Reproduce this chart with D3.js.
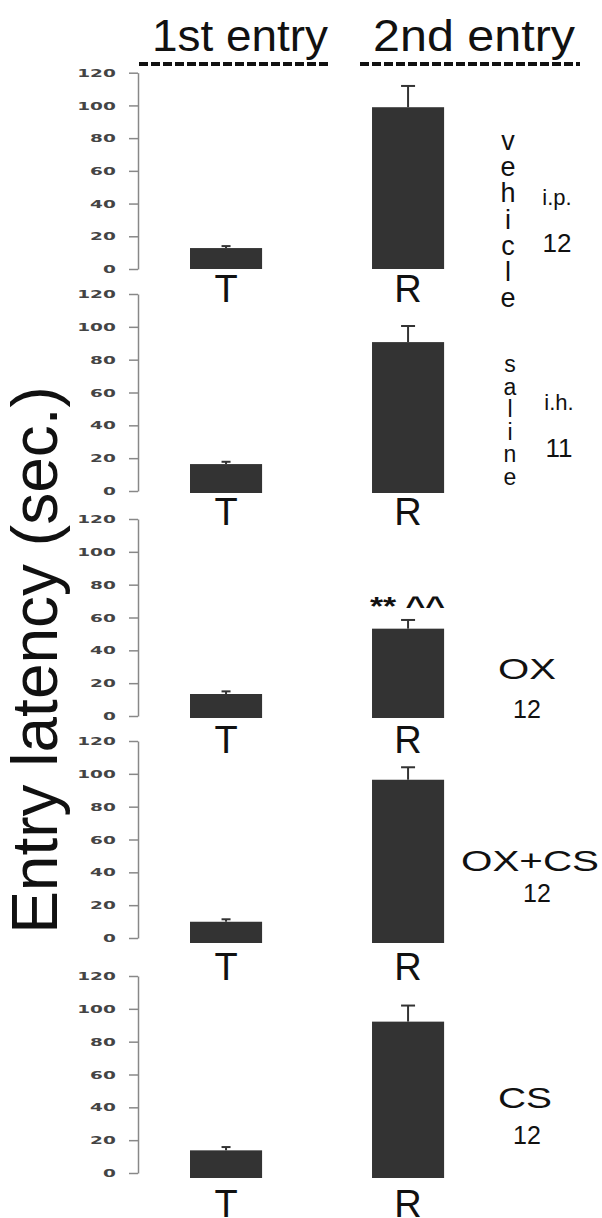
<!DOCTYPE html>
<html>
<head>
<meta charset="utf-8">
<script src="https://cdn.jsdelivr.net/npm/d3@7"></script>
<style>
  body { margin: 0; background: #fff; }
  svg { display: block; }
  text { font-family: Arial, "Liberation Sans", sans-serif; fill: #111; }
</style>
</head>
<body>
<div id="chart"></div>
<script>
// entry latency, T = 1st entry, R = 2nd entry
var categories = ["T", "R"];
var headers = ["1st entry", "2nd entry"];
var groups = ["vehicle", "saline", "OX", "OX+CS", "CS"];
var routes = ["i.p.", "i.h.", "", "", ""];
var nLabels = ["12", "11", "12", "12", "12"];
var meanT = [12.8, 16.4, 13.4, 9.9, 13.8];
var meanR = [98.9, 90.7, 53.2, 96.4, 92.2];
var semT = [1.2, 1.4, 1.6, 1.5, 2.0];
var semR = [13.0, 9.8, 5.3, 7.6, 9.8];
var annotations = ["", "", "** ^^", "", ""];
var yTicks = [0, 20, 40, 60, 80, 100, 120];

var width = 602, height = 1218;
var axisX = 138;
// panel tops / bottoms in px
var panelTop = [72.7, 294, 519, 741, 976];
var panelBot = [269, 491, 716, 938, 1173];
var overhang = [0, 2, 2, 5, 5];
var labelBase = [302, 525, 753, 980, 1217];

var svg = d3.select("#chart").append("svg")
    .attr("width", width)
    .attr("height", height);

svg.append("rect").attr("width", width).attr("height", height).attr("fill", "#fff");

var x = d3.scaleBand()
    .domain(categories)
    .range([153.6, 480.5])
    .paddingInner(0.604)
    .paddingOuter(0.2);

// headers + dashed rules
var hdrW = [176, 202];
headers.forEach(function(h, i) {
    var cx = [240, 474][i];
    svg.append("text")
        .attr("x", cx - hdrW[i] / 2)
        .attr("y", 51)
        .attr("textLength", hdrW[i])
        .attr("lengthAdjust", "spacingAndGlyphs")
        .style("font-size", "44px")
        .text(h);
});
svg.append("line").attr("x1", 139).attr("x2", 329).attr("y1", 64).attr("y2", 64)
    .attr("stroke", "#111").attr("stroke-width", 4).attr("stroke-dasharray", "9,3");
svg.append("line").attr("x1", 360).attr("x2", 580).attr("y1", 64).attr("y2", 64)
    .attr("stroke", "#111").attr("stroke-width", 4).attr("stroke-dasharray", "9,3");

// y title
svg.append("text")
    .attr("transform", "translate(57,660) rotate(-90)")
    .attr("text-anchor", "middle")
    .style("font-size", "64px")
    .text("Entry latency (sec.)");

groups.forEach(function(g, i) {
    var y = d3.scaleLinear().domain([0, 120]).range([panelBot[i], panelTop[i]]);
    var p = svg.append("g");

    var ax = p.append("g")
        .attr("transform", "translate(" + axisX + ",0)")
        .call(d3.axisLeft(y).tickValues(yTicks).tickSize(9).tickSizeOuter(0).tickPadding(0));
    ax.select(".domain").attr("stroke", "#888").attr("stroke-width", 1.5);
    ax.selectAll(".tick line").attr("stroke", "#888").attr("stroke-width", 1.5);
    ax.selectAll(".tick text")
        .attr("x", -12)
        .attr("dy", "0.36em")
        .attr("transform", "scale(1.85,1)")
        .style("font-family", "'DejaVu Sans', Verdana, sans-serif")
        .style("font-weight", "bold")
        .style("font-size", "10px")
        .style("fill", "#444");

    var vals = [meanT[i], meanR[i]];
    var errs = [semT[i], semR[i]];
    var capW = [9, 14];

    // error bars behind bars
    categories.forEach(function(c, j) {
        var cx = x(c) + x.bandwidth() / 2;
        p.append("line")
            .attr("x1", cx).attr("x2", cx)
            .attr("y1", y(vals[j])).attr("y2", y(vals[j] + errs[j]))
            .attr("stroke", "#333").attr("stroke-width", 2);
        p.append("line")
            .attr("x1", cx - capW[j] / 2).attr("x2", cx + capW[j] / 2)
            .attr("y1", y(vals[j] + errs[j])).attr("y2", y(vals[j] + errs[j]))
            .attr("stroke", "#333").attr("stroke-width", 2);
    });

    p.selectAll("rect.bar")
        .data(vals)
        .join("rect")
        .attr("class", "bar")
        .attr("x", function(d, j) { return x(categories[j]); })
        .attr("width", x.bandwidth())
        .attr("y", function(d) { return y(d); })
        .attr("height", function(d) { return y(0) - y(d) + overhang[i]; })
        .attr("fill", "#333");

    p.selectAll("text.cat")
        .data(categories)
        .join("text")
        .attr("class", "cat")
        .attr("x", function(d) { return x(d) + x.bandwidth() / 2; })
        .attr("y", labelBase[i])
        .attr("text-anchor", "middle")
        .style("font-size", "38px")
        .text(function(d) { return d; });

    if (annotations[i]) {
        p.append("text")
            .attr("x", 407 - 37)
            .attr("y", y(meanR[i] + semR[i]) - 5)
            .attr("textLength", 75)
            .attr("lengthAdjust", "spacingAndGlyphs")
            .style("font-size", "26px")
            .style("font-weight", "bold")
            .text(annotations[i]);
    }
});

// side labels
var vert = [
    { first: 150, step: 26.2, size: 27, cx: 508, rb: 205, nb: 252, rcx: 557 },
    { first: 372, step: 22.6, size: 23, cx: 510, rb: 410, nb: 457, rcx: 559 }
];
vert.forEach(function(v, i) {
    groups[i].split("").forEach(function(ch, k) {
        svg.append("text")
            .attr("x", v.cx).attr("y", v.first + k * v.step)
            .attr("text-anchor", "middle")
            .style("font-size", v.size + "px")
            .text(ch);
    });
    svg.append("text").attr("x", v.rcx).attr("y", v.rb)
        .attr("text-anchor", "middle").style("font-size", "22px").text(routes[i]);
    svg.append("text").attr("x", v.rcx).attr("y", v.nb)
        .attr("text-anchor", "middle").style("font-size", "26px").text(nLabels[i]);
});

var horiz = [
    { i: 2, cx: 527, wb: 679, w: 58, nb: 718, ncx: 527 },
    { i: 3, cx: 530, wb: 871, w: 138, nb: 902, ncx: 537 },
    { i: 4, cx: 525, wb: 1108, w: 54, nb: 1144, ncx: 527 }
];
horiz.forEach(function(h) {
    svg.append("text")
        .attr("x", h.cx - h.w / 2).attr("y", h.wb)
        .attr("textLength", h.w)
        .attr("lengthAdjust", "spacingAndGlyphs")
        .style("font-size", "29px")
        .text(groups[h.i]);
    svg.append("text").attr("x", h.ncx).attr("y", h.nb)
        .attr("text-anchor", "middle").style("font-size", "25px").text(nLabels[h.i]);
});
</script>
</body>
</html>
